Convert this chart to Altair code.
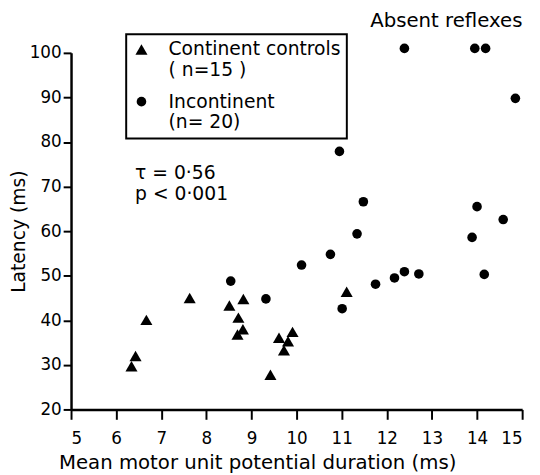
import altair as alt
import pandas as pd

FONT = "DejaVu Sans"

groups = ["Continent controls", "Incontinent"]
marker_sizes = [150, 95]

ctrl_x = [6.34, 6.43, 6.67, 7.63, 8.51, 8.82, 8.71, 8.81, 8.69, 11.11, 9.61, 9.91, 9.81, 9.72, 9.42]
ctrl_y = [29.7, 32.0, 40.1, 45.0, 43.3, 44.8, 40.6, 38.0, 36.8, 46.4, 36.1, 37.4, 35.3, 33.3, 27.8]

inc_x = [8.54, 9.32, 10.11, 10.75, 11.01, 10.95, 11.34, 11.48, 11.75, 12.17,
         12.39, 12.71, 12.39, 13.95, 14.19, 14.85, 14.00, 14.58, 13.89, 14.16]
inc_y = [48.8, 44.8, 52.4, 54.8, 42.6, 77.9, 59.4, 66.6, 48.1, 49.5,
         50.9, 50.4, 101.0, 101.0, 101.0, 89.8, 65.5, 62.6, 58.6, 50.3]

x_ticks = list(range(5, 16))
y_ticks = list(range(20, 101, 10))

notes_text = ["Absent reflexes", "τ = 0·56", "p < 0·001"]
notes_x = [13.32, 6.42, 6.42]
notes_y = [107.1, 73.0, 68.4]
notes_align = ["center", "left", "left"]

df = pd.DataFrame({
    "x": ctrl_x + inc_x,
    "y": ctrl_y + inc_y,
    "group": [groups[0]] * len(ctrl_x) + [groups[1]] * len(inc_x),
})
notes = pd.DataFrame({"text": notes_text, "x": notes_x, "y": notes_y, "align": notes_align})

xscale = alt.Scale(domain=[5, 15], nice=False, zero=False)
yscale = alt.Scale(domain=[20, 100], nice=False, zero=False)

label_expr = ("datum.label == 'Continent controls' ? ['Continent controls', '( n=15 )']"
              " : ['Incontinent', '(n= 20)']")

legend = alt.Legend(orient="none", legendX=56, legendY=-19, title=None,
                    strokeColor="black", padding=6,
                    symbolFillColor="black", symbolStrokeWidth=0,
                    labelFont=FONT, labelFontSize=19, labelExpr=label_expr,
                    labelOffset=18, labelLimit=400, labelBaseline="middle",
                    labelColor="black", rowPadding=12)

points = alt.Chart(df).mark_point(filled=True, opacity=1, color="black", strokeWidth=0).encode(
    x=alt.X("x:Q", scale=xscale,
            axis=alt.Axis(values=x_ticks, title="Mean motor unit potential duration (ms)",
                          tickSize=10, labelPadding=12, titlePadding=6, labelFontSize=17,
                          titleFontSize=20, titleX=189)),
    y=alt.Y("y:Q", scale=yscale,
            axis=alt.Axis(values=y_ticks, title="Latency (ms)", tickSize=8, labelPadding=2,
                          titlePadding=1, labelFontSize=17, titleFontSize=19)),
    shape=alt.Shape("group:N",
                    scale=alt.Scale(domain=groups, range=["triangle-up", "circle"]),
                    legend=legend),
    size=alt.Size("group:N", scale=alt.Scale(domain=groups, range=marker_sizes), legend=legend),
)

left_notes = alt.Chart(notes[notes["align"] == "left"]).mark_text(
    align="left", baseline="middle", font=FONT, fontSize=19, color="black"
).encode(x=alt.X("x:Q", scale=xscale), y=alt.Y("y:Q", scale=yscale), text="text:N")

center_notes = alt.Chart(notes[notes["align"] == "center"]).mark_text(
    align="center", baseline="middle", font=FONT, fontSize=20, color="black"
).encode(x=alt.X("x:Q", scale=xscale), y=alt.Y("y:Q", scale=yscale), text="text:N")

chart = alt.layer(points, left_notes, center_notes).properties(
    width=458, height=362,
    autosize=alt.AutoSizeParams(type="none"),
    padding={"left": 64, "top": 42, "right": 10, "bottom": 63},
).configure_view(stroke=None).configure_axis(
    grid=False, domainColor="black", domainWidth=2.5, tickColor="black", tickWidth=2,
    labelColor="black", titleColor="black", labelFont=FONT, titleFont=FONT,
    titleFontWeight="normal",
).configure_legend(strokeWidth=2)

chart.save("out.html", embed_options={"renderer": "svg", "actions": False})
